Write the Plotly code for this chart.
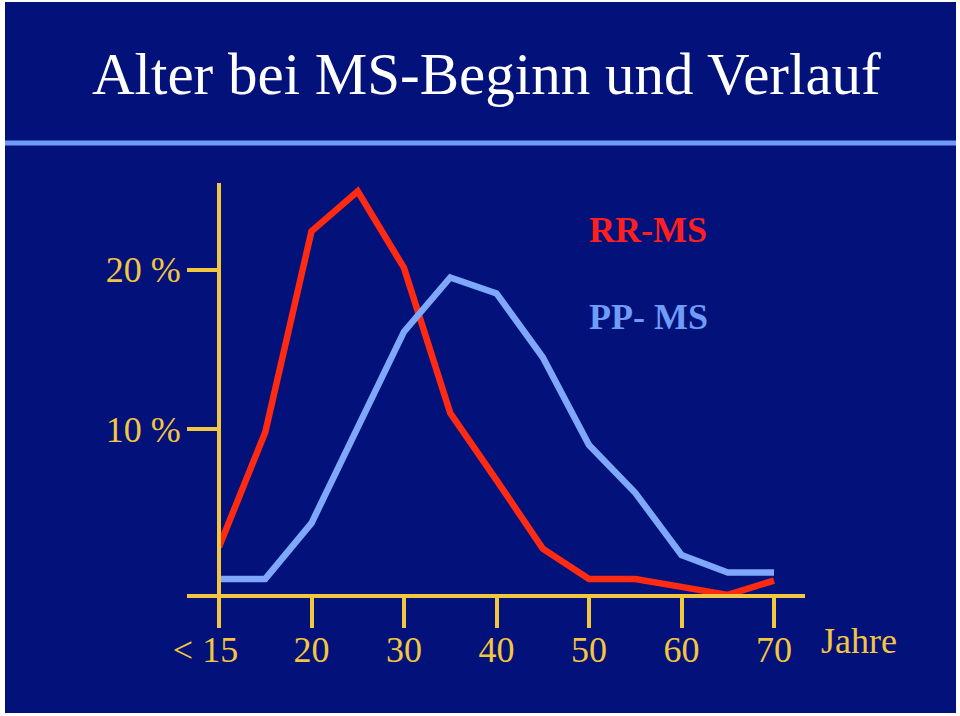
import plotly.graph_objects as go

# ---- data ----
ages = [10, 15, 20, 25, 30, 35, 40, 45, 50, 55, 60, 65, 70]
rr_ms = [2.6, 9.8, 22.4, 24.9, 20.1, 11.0, 6.8, 2.5, 0.6, 0.6, 0.1, -0.4, 0.5]
pp_ms = [0.6, 0.6, 4.1, 10.1, 16.1, 19.5, 18.5, 14.5, 9.0, 6.0, 2.1, 1.0, 1.0]
x_tick_vals = [10, 20, 30, 40, 50, 60, 70]
x_tick_text = ["< 15\u00a0\u00a0\u00a0", "20", "30", "40", "50", "60", "70"]
y_tick_vals = [10, 20]
y_tick_text = ["10 %", "20 %"]

NAVY = "#03117a"
YELLOW = "#f3c640"
RED = "#ff2a12"
BLUE = "#7fa8fb"
SERIF = "Liberation Serif, Times New Roman, serif"

# plot area pixel geometry
L, R, T, B = 219, 805, 183, 596
W, H = 960, 716


def px(x):
    return (x - L) / (R - L)


def py(y):
    return (B - y) / (B - T)


fig = go.Figure()
fig.add_trace(go.Scatter(x=ages, y=rr_ms, mode="lines", name="RR-MS",
                         line=dict(color=RED, width=6.5), showlegend=False))
fig.add_trace(go.Scatter(x=ages, y=pp_ms, mode="lines", name="PP- MS",
                         line=dict(color=BLUE, width=6.5), showlegend=False))

shapes = [
    # navy panel inside white frame
    dict(type="rect", xref="paper", yref="paper", x0=px(5), x1=px(956), y0=py(713), y1=py(2),
         fillcolor=NAVY, line=dict(width=0), layer="below"),
    # title underline
    dict(type="line", xref="paper", yref="paper", x0=px(5), x1=px(956), y0=py(143), y1=py(143),
         line=dict(color="#6f9cf5", width=5)),
    # x axis line extending left of the y axis
    dict(type="line", xref="paper", yref="paper", x0=px(187), x1=px(805), y0=0, y1=0,
         line=dict(color=YELLOW, width=4)),
    # y axis line
    dict(type="line", xref="paper", yref="paper", x0=0, x1=0, y0=0, y1=1,
         line=dict(color=YELLOW, width=4)),
]

annotations = [
    dict(text="Alter bei MS-Beginn und Verlauf", xref="paper", yref="paper",
         x=px(90), y=py(74), xanchor="left", yanchor="middle", showarrow=False,
         font=dict(family=SERIF, size=59, color="white")),
    dict(text="<b>RR-MS</b>", xref="paper", yref="paper",
         x=px(587), y=py(230), xanchor="left", yanchor="middle", showarrow=False,
         font=dict(family=SERIF, size=36, color="#ff1f1f")),
    dict(text="<b>PP- MS</b>", xref="paper", yref="paper",
         x=px(587), y=py(317), xanchor="left", yanchor="middle", showarrow=False,
         font=dict(family=SERIF, size=36, color="#6e9cf6")),
    dict(text="Jahre", xref="paper", yref="paper",
         x=px(819), y=py(641), xanchor="left", yanchor="middle", showarrow=False,
         font=dict(family=SERIF, size=36, color=YELLOW)),
]

fig.update_layout(
    width=W, height=H,
    margin=dict(l=L, r=W - R, t=T, b=H - B, pad=0),
    paper_bgcolor="white",
    plot_bgcolor=NAVY,
    shapes=shapes,
    annotations=annotations,
    xaxis=dict(range=[10, 10 + (R - L) / 9.25], showgrid=False, zeroline=False,
               showline=False, tickmode="array", tickvals=x_tick_vals, ticktext=x_tick_text,
               ticks="outside", ticklen=31, tickwidth=4, tickcolor=YELLOW,
               ticklabelstandoff=-9,
               tickfont=dict(family=SERIF, size=36, color=YELLOW), fixedrange=True),
    yaxis=dict(range=[(588.5 - B) / 15.95, (588.5 - T) / 15.95], showgrid=False,
               zeroline=False, showline=False,
               tickmode="array", tickvals=y_tick_vals, ticktext=y_tick_text,
               ticks="outside", ticklen=31, tickwidth=4, tickcolor=YELLOW,
               ticklabelstandoff=-1,
               tickfont=dict(family=SERIF, size=36, color=YELLOW), fixedrange=True),
)

fig.write_html("out.html")
